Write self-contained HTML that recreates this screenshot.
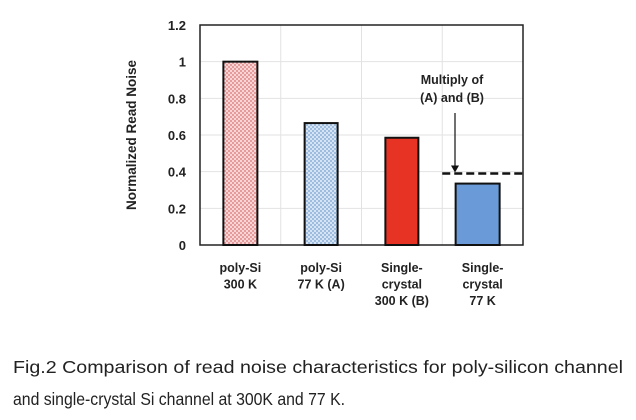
<!DOCTYPE html>
<html><head><meta charset="utf-8"><style>
html,body{margin:0;padding:0;background:#fff;}
svg{display:block;font-family:"Liberation Sans",sans-serif;}
</style></head><body>
<svg id="c" width="636" height="420" viewBox="0 0 636 420">
<defs>
<pattern id="pRed" width="4" height="4" patternUnits="userSpaceOnUse"><rect width="4" height="4" fill="#e79a9a"/><circle cx="1" cy="1" r="0.9" fill="#fff"/><circle cx="3" cy="3" r="0.9" fill="#fff"/></pattern>
<pattern id="pBlue" width="4" height="4" patternUnits="userSpaceOnUse"><rect width="4" height="4" fill="#9dbde0"/><circle cx="1" cy="1" r="0.9" fill="#fff"/><circle cx="3" cy="3" r="0.9" fill="#fff"/></pattern>
</defs>
<g id="grid"></g>
<g id="bars"></g>
<g id="labels"></g>
<text transform="translate(136,135) rotate(-90)" text-anchor="middle" font-size="13.5" font-weight="bold" fill="#222">Normalized Read Noise</text>
<text font-size="12.5" font-weight="bold" text-anchor="middle" fill="#222"><tspan x="452" y="84">Multiply of</tspan><tspan x="452" y="102">(A) and (B)</tspan></text>
<text font-size="17.5" fill="#222"><tspan x="13" y="373" textLength="610" lengthAdjust="spacingAndGlyphs">Fig.2 Comparison of read noise characteristics for poly-silicon channel</tspan><tspan x="13" y="405" textLength="332" lengthAdjust="spacingAndGlyphs">and single-crystal Si channel at 300K and 77 K.</tspan></text>
</svg>
<script>
const categories=[["poly-Si","300 K"],["poly-Si","77 K (A)"],["Single-","crystal","300 K (B)"],["Single-","crystal","77 K"]];
const values=[1.0,0.665,0.585,0.335];
const fills=["url(#pRed)","url(#pBlue)","#e63323","#6a9bd8"];
const yTicks=[0,0.2,0.4,0.6,0.8,1.2,1];
const tickLabels=["0","0.2","0.4","0.6","0.8","1.2","1"];
const productValue=0.39;
const NS="http://www.w3.org/2000/svg";
const L=200,R=523,T=25,B=245,yMax=1.2;
const y=v=>B-(v/yMax)*(B-T);
const bandW=(R-L)/categories.length;
const xc=i=>L+bandW*(i+0.5);
function mk(tag,attrs,parent){const e=document.createElementNS(NS,tag);for(const k in attrs)e.setAttribute(k,attrs[k]);parent.appendChild(e);return e;}
const grid=document.getElementById('grid'),bars=document.getElementById('bars'),labels=document.getElementById('labels');
mk('rect',{x:L,y:T,width:R-L,height:B-T,fill:'#fff'},grid);
yTicks.forEach((t,i)=>{
 const g=mk('line',{x1:L,x2:R,y1:y(t),y2:y(t),stroke:'#e2e2e2','stroke-width':1},grid);
 
 
 const tx=mk('text',{x:186,y:y(t)+5,'text-anchor':'end','font-size':13,'font-weight':'bold',fill:'#222'},labels);
 tx.textContent=tickLabels[i];
 
 
});
for(let i=1;i<categories.length;i++){
 const g=mk('line',{x1:L+bandW*i,x2:L+bandW*i,y1:T,y2:B,stroke:'#e2e2e2','stroke-width':1},grid);
 
 
}
const frame=mk('rect',{x:L,y:T,width:R-L,height:B-T,fill:'none',stroke:'#222','stroke-width':1.5},grid);


const bw=[34,33,33,44];
const off=[0,0,0,-5];
values.forEach((v,i)=>{
 const w=bw[i];
 const r=mk('rect',{x:xc(i)-w/2+off[i],y:y(v),width:w,height:B-y(v),fill:fills[i],stroke:'#111','stroke-width':2},bars);
 
 
 categories[i].forEach((ln,j)=>{
  const t=mk('text',{x:xc(i),y:272+j*16.5,'text-anchor':'middle','font-size':12.5,'font-weight':'bold',fill:'#222'},labels);
  t.textContent=ln;
  
  
 });
});
const d=mk('line',{x1:L+bandW*3,x2:R+3,y1:y(productValue),y2:y(productValue),stroke:'#111','stroke-width':2.5,'stroke-dasharray':'8,4'},bars);


const a=mk('line',{x1:455,x2:455,y1:113,y2:y(productValue)-6,stroke:'#111','stroke-width':1.2},bars);


const ah=mk('polygon',{points:`451,${y(productValue)-8} 459,${y(productValue)-8} 455,${y(productValue)-1}`,fill:'#111'},bars);


</script>
</body></html>
